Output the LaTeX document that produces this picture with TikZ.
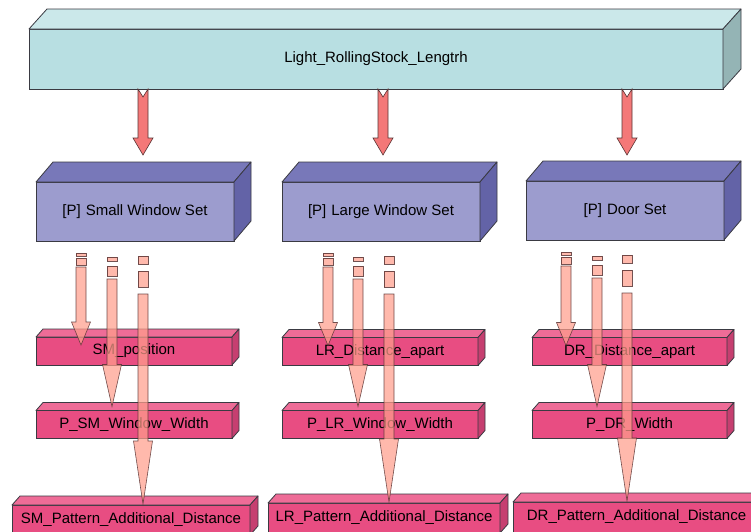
\documentclass[tikz,border=0pt]{standalone}
\usepackage{fontspec}
\setmainfont{Liberation Sans}
\usetikzlibrary{calc}
\definecolor{cyanF}{HTML}{B8DFE2}
\definecolor{cyanT}{HTML}{CBE8EA}
\definecolor{cyanS}{HTML}{94B4B5}
\definecolor{purF}{HTML}{9C9CCE}
\definecolor{purT}{HTML}{7878B9}
\definecolor{purS}{HTML}{6363A7}
\definecolor{pinkF}{HTML}{E84D82}
\definecolor{pinkT}{HTML}{EE6C97}
\definecolor{pinkS}{HTML}{C63F70}
\definecolor{redA}{HTML}{F47878}
\definecolor{salA}{HTML}{FF9E8C}
\definecolor{edgec}{HTML}{3A3A42}
\definecolor{arrEdge}{HTML}{5A3434}
\tikzset{
  box/.style={draw=edgec, line width=0.8pt, inner sep=0pt, outer sep=0pt,
    font=\fontsize{15}{18}\selectfont, text=black},
  faceline/.style={draw=edgec, line width=0.8pt, line join=round},
  cyanbox/.style={box, fill=cyanF, minimum width=694pt, minimum height=60pt},
  purbox/.style={box, fill=purF, minimum width=198pt, minimum height=59pt},
  pinkbox/.style={box, fill=pinkF, minimum height=28pt},
  redarr/.style={fill=redA, draw=arrEdge, line width=0.6pt, line join=miter},
  dsh/.style={fill=salA, fill opacity=0.72, draw=arrEdge, draw opacity=0.85, line width=0.6pt}
}
\newcommand\faces[4]{%
  \draw[faceline, fill=#4T] (#1.north west) -- ([shift={(#2,-#3)}]#1.north west)
     -- ([shift={(#2,-#3)}]#1.north east) -- (#1.north east) -- cycle;
  \draw[faceline, fill=#4S] (#1.north east) -- ([shift={(#2,-#3)}]#1.north east)
     -- ([shift={(#2,-#3)}]#1.south east) -- (#1.south east) -- cycle;}
% #1 tail coordinate, #2 tip coordinate, #3 head length, #4 shaft start offset, #5 dash list
\newcommand\dasharr[5]{%
  \foreach \a/\b in {#5}{%
    \path[dsh] let \p1=(#1) in (\x1-5pt,\y1-\a*1pt) rectangle (\x1+5pt,\y1-\b*1pt);}
  \path[dsh] let \p1=(#1), \p2=(#2) in
    (\x1-5pt,\y1-#4*1pt) -- (\x1+5pt,\y1-#4*1pt) -- (\x1+5pt,\y2+#3*1pt)
    -- (\x1+9.5pt,\y2+#3*1pt) -- (\x1,\y2) -- (\x1-9.5pt,\y2+#3*1pt)
    -- (\x1-5pt,\y2+#3*1pt) -- cycle;}
% #1 tail coordinate, #2 tip coordinate
\newcommand\redarrow[2]{%
  \path[redarr] let \p1=(#1), \p2=(#2) in
    (\x1-5pt,\y1) -- (\x1,\y1-8pt) -- (\x1+5pt,\y1) -- (\x1+5pt,\y2+17pt)
    -- (\x1+10pt,\y2+17pt) -- (\x1,\y2) -- (\x1-10pt,\y2+17pt)
    -- (\x1-5pt,\y2+17pt) -- cycle;}
\begin{document}
\begin{tikzpicture}[x=1pt,y=-1pt]
\useasboundingbox (0,0) rectangle (751,531);
\fill[white] (0,0) rectangle (751,531);

% top box
\node[cyanbox] (top) at (376,59) {Light\_RollingStock\_Lengtrh};
\faces{top}{18}{20}{cyan}

% second level
\node[purbox] (sw) at (135,211.5) {[P]\,\,Small Window Set};
\faces{sw}{17}{20}{pur}
\node[purbox] (lw) at (381,211.5) {[P]\,\,Large Window Set};
\faces{lw}{17}{20}{pur}
\node[purbox] (ds) at (625,210.5) {[P]\,\,Door Set};
\faces{ds}{17}{20}{pur}

% third level
\node[pinkbox, minimum width=196pt] (smp) at (134,351) {SM\_position};
\faces{smp}{7}{8}{pink}
\node[pinkbox, minimum width=196pt] (lrd) at (380,351.5) {LR\_Distance\_apart};
\faces{lrd}{7}{8}{pink}
\node[pinkbox, minimum width=195pt] (drd) at (629.5,351.5) {DR\_Distance\_apart};
\faces{drd}{7}{8}{pink}

\node[pinkbox, minimum width=196pt] (smw) at (134,424.5) {P\_SM\_Window\_Width};
\faces{smw}{7}{8}{pink}
\node[pinkbox, minimum width=196pt] (lrw) at (380,424.5) {P\_LR\_Window\_Width};
\faces{lrw}{7}{8}{pink}
\node[pinkbox, minimum width=195pt] (drw) at (629.5,424.5) {P\_DR\_Width};
\faces{drw}{7}{8}{pink}

\node[pinkbox, minimum width=238pt, minimum height=30pt] (sma) at (131,520) {SM\_Pattern\_Additional\_Distance};
\faces{sma}{8}{9}{pink}
\node[pinkbox, minimum width=232pt, minimum height=30pt] (lra) at (384,518) {LR\_Pattern\_Additional\_Distance};
\faces{lra}{8}{9}{pink}
\node[pinkbox, minimum width=247pt, minimum height=30pt] (dra) at (636.5,517) {DR\_Pattern\_Additional\_Distance};
\faces{dra}{8}{9}{pink}

% arrow columns
\coordinate (t1) at (143,0); \coordinate (t2) at (383,0); \coordinate (t3) at (627,0);
\coordinate (c11) at (81,0);  \coordinate (c12) at (112,0); \coordinate (c13) at (143,0);
\coordinate (c21) at (328,0); \coordinate (c22) at (358,0); \coordinate (c23) at (389,0);
\coordinate (c31) at (566,0); \coordinate (c32) at (597,0); \coordinate (c33) at (627,0);

% red arrows from the top box
\redarrow{top.south -| t1}{$(sw.north -| t1)+(0,-27)$}
\redarrow{top.south -| t2}{$(lw.north -| t2)+(0,-27)$}
\redarrow{top.south -| t3}{$(ds.north -| t3)+(0,-26)$}

% dashed arrows
\foreach \s/\c/\a/\b/\z in {sw/c1/smp/smw/sma, lw/c2/lrd/lrw/lra, ds/c3/drd/drw/dra}{
  \coordinate (\c1s) at ($(\s.south -| \c1)+(0,12)$);
  \coordinate (\c2s) at ($(\s.south -| \c2)+(0,12)$);
  \coordinate (\c3s) at ($(\s.south -| \c3)+(0,12)$);
  \coordinate (\c1e) at ($(\a.north -| \c1)+(0,8)$);
  \coordinate (\c2e) at ($(\b.north -| \c2)+(0,-4)$);
  \coordinate (\c3e) at ($(\z.north -| \c3)+(0,-1)$);
  \dasharr{\c1s}{\c1e}{23}{14}{0/3,5/12}
  \dasharr{\c2s}{\c2e}{42}{26}{4/8,13/23}
  \dasharr{\c3s}{\c3e}{63}{41}{3/11,18/34}
}
\end{tikzpicture}
\end{document}
